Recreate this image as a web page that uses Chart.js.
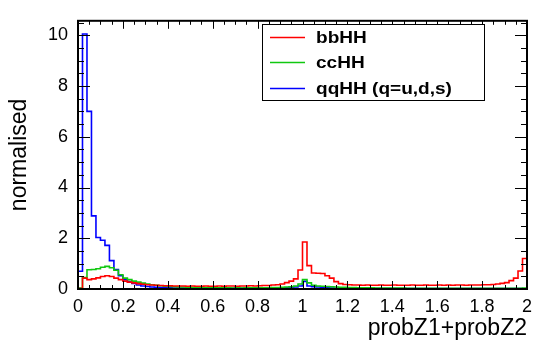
<!DOCTYPE html>
<html>
<head>
<meta charset="utf-8">
<script src="https://cdn.jsdelivr.net/npm/chart.js@4/dist/chart.umd.min.js"></script>
<style>
  html, body { margin: 0; padding: 0; background: #fff; }
  #wrap { width: 534px; height: 342px; }
</style>
</head>
<body>
<div id="wrap"><canvas id="myChart" width="534" height="342"></canvas></div>
<script>
// histogram binning: 100 bins on [0, 2]
const binLow = 0;
const binWidth = 0.02;

const seriesNames = ['bbHH', 'ccHH', 'qqHH (q=u,d,s)'];

const bbHH = [
  0.02, 0.43, 0.37, 0.40, 0.44, 0.49, 0.52, 0.49, 0.43, 0.37,
  0.31, 0.27, 0.24, 0.21, 0.19, 0.17, 0.16, 0.15, 0.14, 0.13,
  0.13, 0.12, 0.12, 0.12, 0.11, 0.12, 0.11, 0.11, 0.12, 0.11,
  0.11, 0.12, 0.11, 0.12, 0.12, 0.11, 0.12, 0.12, 0.13, 0.12,
  0.13, 0.14, 0.14, 0.16, 0.17, 0.20, 0.25, 0.31, 0.40, 0.75,
  1.85, 0.92, 0.63, 0.62, 0.61, 0.52, 0.43, 0.29, 0.21, 0.18,
  0.17, 0.16, 0.16, 0.15, 0.16, 0.15, 0.15, 0.16, 0.15, 0.15,
  0.16, 0.15, 0.15, 0.15, 0.16, 0.15, 0.15, 0.16, 0.15, 0.15,
  0.16, 0.15, 0.16, 0.15, 0.16, 0.16, 0.15, 0.16, 0.16, 0.16,
  0.17, 0.17, 0.18, 0.20, 0.22, 0.25, 0.33, 0.43, 0.71, 1.20
];

const ccHH = [
  0.04, 0.45, 0.76, 0.77, 0.80, 0.86, 0.89, 0.84, 0.74, 0.56,
  0.43, 0.37, 0.31, 0.27, 0.23, 0.20, 0.17, 0.15, 0.13, 0.11,
  0.10, 0.09, 0.08, 0.08, 0.07, 0.07, 0.06, 0.06, 0.06, 0.05,
  0.05, 0.05, 0.05, 0.05, 0.04, 0.05, 0.04, 0.05, 0.05, 0.05,
  0.05, 0.05, 0.05, 0.06, 0.06, 0.07, 0.08, 0.09, 0.12, 0.20,
  0.37, 0.24, 0.15, 0.12, 0.11, 0.10, 0.09, 0.08, 0.07, 0.07,
  0.06, 0.06, 0.05, 0.05, 0.05, 0.05, 0.04, 0.04, 0.04, 0.04,
  0.04, 0.04, 0.04, 0.03, 0.03, 0.03, 0.03, 0.03, 0.03, 0.03,
  0.03, 0.03, 0.03, 0.03, 0.03, 0.03, 0.03, 0.03, 0.03, 0.03,
  0.03, 0.03, 0.03, 0.03, 0.03, 0.03, 0.03, 0.03, 0.03, 0.04
];

const qqHH = [
  0.70, 10.05, 7.00, 2.88, 2.03, 1.92, 1.72, 1.12, 0.77, 0.52,
  0.37, 0.29, 0.22, 0.16, 0.12, 0.10, 0.08, 0.07, 0.06, 0.05,
  0.05, 0.04, 0.04, 0.04, 0.03, 0.03, 0.03, 0.03, 0.03, 0.03,
  0.03, 0.03, 0.03, 0.03, 0.03, 0.03, 0.03, 0.03, 0.03, 0.03,
  0.03, 0.03, 0.03, 0.03, 0.04, 0.04, 0.05, 0.06, 0.08, 0.12,
  0.30, 0.12, 0.09, 0.08, 0.07, 0.05, 0.04, 0.03, 0.03, 0.02,
  0.02, 0.02, 0.02, 0.02, 0.02, 0.02, 0.02, 0.02, 0.02, 0.02,
  0.02, 0.02, 0.02, 0.02, 0.02, 0.02, 0.02, 0.02, 0.02, 0.02,
  0.02, 0.02, 0.02, 0.02, 0.02, 0.02, 0.02, 0.02, 0.02, 0.02,
  0.02, 0.02, 0.02, 0.02, 0.02, 0.02, 0.02, 0.02, 0.02, 0.01
];

const xTickLabels = [0, 0.2, 0.4, 0.6, 0.8, 1, 1.2, 1.4, 1.6, 1.8, 2];
const yTickLabels = [0, 2, 4, 6, 8, 10];

const colours = ['#ff0000', '#10c810', '#0000ff'];

// bin contents -> step points at bin low edges (+ closing point at the upper edge)
function toSteps(vals) {
  const pts = vals.map((v, i) => ({ x: binLow + i * binWidth, y: v }));
  pts.push({ x: binLow + vals.length * binWidth, y: vals[vals.length - 1] });
  return pts;
}

// ROOT style frame: inward ticks on all four sides
const frameTicks = {
  id: 'frameTicks',
  afterDatasetsDraw(chart) {
    const { ctx, chartArea: a, scales: { x, y } } = chart;
    ctx.save();
    ctx.strokeStyle = '#000';
    ctx.lineWidth = 1;
    ctx.beginPath();
    for (let i = 0; i <= 40; i++) {
      const px = Math.round(x.getPixelForValue(i * 0.05)) + 0.5;
      const len = i % 4 === 0 ? 8 : 4;
      ctx.moveTo(px, a.bottom); ctx.lineTo(px, a.bottom - len);
      ctx.moveTo(px, a.top); ctx.lineTo(px, a.top + len);
    }
    for (let i = 0; i <= 21; i++) {
      const py = Math.round(y.getPixelForValue(i * 0.5)) + 0.5;
      if (py < a.top) continue;
      const len = i % 4 === 0 ? 12 : 6;
      ctx.moveTo(a.left, py); ctx.lineTo(a.left + len, py);
      ctx.moveTo(a.right, py); ctx.lineTo(a.right - len, py);
    }
    ctx.stroke();
    ctx.lineWidth = 2;
    ctx.strokeRect(a.left, a.top, a.right - a.left, a.bottom - a.top);
    ctx.restore();
  }
};

// legend box, top right inside the frame
const histLegend = {
  id: 'histLegend',
  afterDraw(chart) {
    const { ctx } = chart;
    const bx = 262, by = 24, bw = 222, bh = 76;
    ctx.save();
    ctx.fillStyle = '#fff';
    ctx.fillRect(bx, by, bw, bh);
    ctx.strokeStyle = '#000';
    ctx.lineWidth = 1;
    ctx.strokeRect(bx + 0.5, by + 0.5, bw, bh);
    const rows = [37, 62, 88];
    seriesNames.forEach((name, i) => {
      ctx.strokeStyle = colours[i];
      ctx.lineWidth = 1.6;
      ctx.beginPath();
      ctx.moveTo(270, rows[i] + 0.5);
      ctx.lineTo(305, rows[i] + 0.5);
      ctx.stroke();
      // text is a bit wider than tall in the reference
      ctx.save();
      ctx.translate(316, rows[i] + 1);
      ctx.scale(1.12, 1);
      ctx.font = 'bold 17px "Liberation Sans", Arial, sans-serif';
      ctx.textBaseline = 'middle';
      ctx.fillStyle = '#000';
      ctx.fillText(name, 0, 0);
      ctx.restore();
    });
    ctx.restore();
  }
};

const tickFont = { family: '"Liberation Sans", Arial, sans-serif', size: 18 };
const titleFont = { family: '"Liberation Sans", Arial, sans-serif', size: 23 };

new Chart(document.getElementById('myChart'), {
  type: 'line',
  data: {
    datasets: [bbHH, ccHH, qqHH].map((vals, i) => ({
      label: seriesNames[i],
      data: toSteps(vals),
      stepped: 'before',
      borderColor: colours[i],
      borderWidth: 1.6,
      pointRadius: 0,
      fill: false,
      order: i
    }))
  },
  options: {
    responsive: false,
    animation: false,
    events: [],
    layout: { padding: { top: 5, right: 0, left: 0, bottom: 0 } },
    plugins: { legend: { display: false }, tooltip: { enabled: false } },
    scales: {
      x: {
        type: 'linear',
        min: 0,
        max: 2,
        afterFit: s => { s.height = 53; s.paddingRight = 7; s.paddingLeft = 0; },
        afterBuildTicks: s => { s.ticks = xTickLabels.map(v => ({ value: v })); },
        grid: { display: false, drawTicks: false },
        border: { display: false },
        ticks: {
          color: '#000',
          font: tickFont,
          padding: 7,
          maxRotation: 0,
          autoSkip: false,
          callback: v => String(+v.toFixed(1))
        },
        title: {
          display: true,
          text: 'probZ1+probZ2',
          align: 'end',
          color: '#000',
          font: titleFont,
          padding: { top: 0, bottom: 0 }
        }
      },
      y: {
        type: 'linear',
        min: 0,
        max: 10.57,
        afterFit: s => { s.width = 78; },
        afterBuildTicks: s => { s.ticks = yTickLabels.map(v => ({ value: v })); },
        grid: { display: false, drawTicks: false },
        border: { display: false },
        ticks: {
          color: '#000',
          font: tickFont,
          padding: 10,
          autoSkip: false
        },
        title: {
          display: true,
          text: 'normalised',
          color: '#000',
          font: titleFont,
          padding: { top: 6, bottom: 0 }
        }
      }
    }
  },
  plugins: [frameTicks, histLegend]
});
</script>
</body>
</html>
